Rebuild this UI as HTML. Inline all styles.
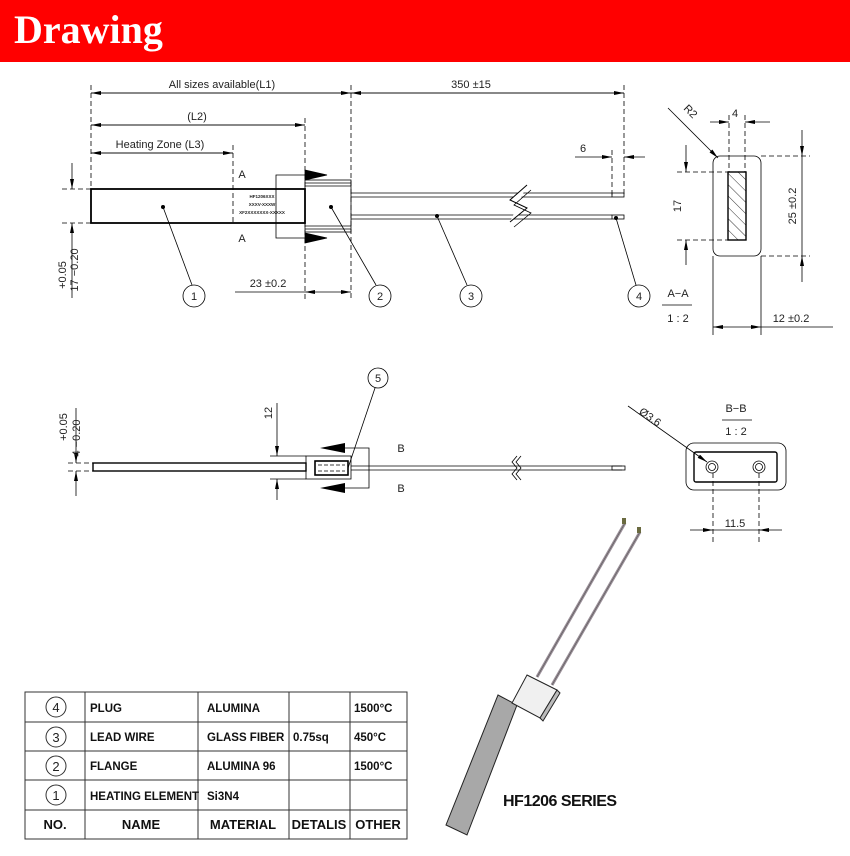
<!DOCTYPE html>
<html><head><meta charset="utf-8"><style>
html,body{margin:0;padding:0;background:#fff;}
svg{display:block;}
text{font-family:"Liberation Sans Narrow","Liberation Sans",sans-serif;fill:#222;}
</style></head><body>
<svg width="850" height="856" viewBox="0 0 850 856" xmlns="http://www.w3.org/2000/svg">
<defs>
<marker id="ar" viewBox="0 0 10 4" refX="10" refY="2" markerWidth="14" markerHeight="4" markerUnits="userSpaceOnUse" orient="auto"><path d="M0,0L10,2L0,4z" fill="#000"/></marker>
<pattern id="hatch" width="8" height="8" patternUnits="userSpaceOnUse" patternTransform="rotate(-45)"><line x1="0" y1="0" x2="0" y2="8" stroke="#333" stroke-width="1"/></pattern>
</defs>
<rect x="0" y="0" width="850" height="62" fill="#ff0000"/>
<text x="14" y="43" style="font-family:'Liberation Serif',serif;font-weight:bold;font-size:40px;fill:#fff">Drawing</text>

<g stroke="#000" stroke-width="0.8" fill="none">
<!-- dashed extension lines top -->
<g stroke-dasharray="5,3">
<line x1="91" y1="85" x2="91" y2="223"/>
<line x1="305" y1="118" x2="305" y2="300"/>
<line x1="351" y1="85" x2="351" y2="300"/>
<line x1="624" y1="85" x2="624" y2="195"/>
<line x1="612" y1="150" x2="612" y2="195"/>
<line x1="233" y1="145" x2="233" y2="223"/>
<line x1="62" y1="189" x2="91" y2="189"/>
<line x1="62" y1="223" x2="91" y2="223"/>
</g>
<!-- dim lines -->
<line x1="91" y1="93" x2="351" y2="93" marker-start="url(#ar)" marker-end="url(#ar)" style="marker-start:none"/>
<line x1="351" y1="93" x2="91" y2="93" marker-end="url(#ar)"/>
<line x1="351" y1="93" x2="624" y2="93" marker-end="url(#ar)"/>
<line x1="624" y1="93" x2="351" y2="93" marker-end="url(#ar)"/>
<line x1="91" y1="125" x2="305" y2="125" marker-end="url(#ar)"/>
<line x1="305" y1="125" x2="91" y2="125" marker-end="url(#ar)"/>
<line x1="91" y1="153" x2="233" y2="153" marker-end="url(#ar)"/>
<line x1="233" y1="153" x2="91" y2="153" marker-end="url(#ar)"/>
<line x1="235" y1="292" x2="305" y2="292"/>
<line x1="330" y1="292" x2="305" y2="292" marker-end="url(#ar)"/>
<line x1="330" y1="292" x2="351" y2="292" marker-end="url(#ar)"/>
<line x1="575" y1="157" x2="612" y2="157" marker-end="url(#ar)"/>
<line x1="645" y1="157" x2="624" y2="157" marker-end="url(#ar)"/>
<line x1="72" y1="163" x2="72" y2="189" marker-end="url(#ar)"/>
<line x1="72" y1="250" x2="72" y2="223" marker-end="url(#ar)"/>
<line x1="72" y1="250" x2="72" y2="298"/>
<!-- element -->
<rect x="91" y="189" width="214" height="34" stroke-width="1.8"/>
<!-- flange -->
<rect x="305" y="180" width="46" height="52"/>
<line x1="305" y1="183" x2="351" y2="183"/><line x1="305" y1="186" x2="351" y2="186"/>
<line x1="305" y1="226" x2="351" y2="226"/><line x1="305" y1="229" x2="351" y2="229"/>
<!-- wires -->
<line x1="351" y1="193" x2="612" y2="193"/><line x1="351" y1="197" x2="612" y2="197"/>
<line x1="351" y1="215" x2="612" y2="215"/><line x1="351" y1="219" x2="612" y2="219"/>
<rect x="612" y="193" width="12" height="4"/>
<rect x="612" y="215" width="12" height="4"/>
<polyline points="527,185 510,200 527,208 510,222" stroke="#000" fill="#fff" stroke-width="1"/>
<polyline points="531,190 514,205 531,213 514,227"/>
<!-- section A lines -->
<polyline points="305,175 276,175 276,238 305,238"/>
<path d="M305,170L327,175L305,180z" fill="#000"/>
<path d="M305,233L327,238L305,243z" fill="#000"/>
<!-- leaders -->
<line x1="163" y1="207" x2="192" y2="285"/>
<line x1="331" y1="207" x2="376" y2="285"/>
<line x1="437" y1="216" x2="467" y2="285"/>
<line x1="616" y1="218" x2="636" y2="285"/>
<circle cx="194" cy="296" r="11"/><circle cx="380" cy="296" r="11"/><circle cx="471" cy="296" r="11"/><circle cx="639" cy="296" r="11"/>
</g>
<g fill="#000"><circle cx="163" cy="207" r="2"/><circle cx="331" cy="207" r="2"/><circle cx="437" cy="216" r="2"/><circle cx="616" cy="218" r="2"/></g>
<g font-size="11" text-anchor="middle">
<text x="222" y="88">All sizes available(L1)</text>
<text x="471" y="88">350 ±15</text>
<text x="197" y="120">(L2)</text>
<text x="160" y="148">Heating Zone (L3)</text>
<text x="268" y="287">23 ±0.2</text>
<text x="583" y="152">6</text>
<text x="242" y="178">A</text>
<text x="242" y="242">A</text>
<text x="194" y="300">1</text><text x="380" y="300">2</text><text x="471" y="300">3</text><text x="639" y="300">4</text>
</g>
<g font-size="4.5" font-weight="bold" text-anchor="middle"><text x="262" y="198">HF1206XXX</text><text x="262" y="206">XXXV-XXXW</text><text x="262" y="214">XF2XXXXXXX-XXXXX</text></g>
<text transform="translate(66,275) rotate(-90)" font-size="11" text-anchor="middle">+0.05</text>
<text transform="translate(78,270) rotate(-90)" font-size="11" text-anchor="middle">17 −0.20</text>

<!-- Section A-A -->
<g stroke="#000" stroke-width="0.8" fill="none">
<rect x="713" y="156" width="48" height="100" rx="7"/>
<rect x="728" y="172" width="18" height="68" fill="url(#hatch)" stroke-width="1.4"/>
<g stroke-dasharray="5,3">
<line x1="729" y1="115" x2="729" y2="172"/><line x1="745" y1="115" x2="745" y2="172"/>
<line x1="677" y1="172" x2="728" y2="172"/><line x1="677" y1="240" x2="728" y2="240"/>
<line x1="761" y1="156" x2="810" y2="156"/><line x1="761" y1="256" x2="810" y2="256"/>
</g>
<line x1="710" y1="122" x2="729" y2="122" marker-end="url(#ar)"/>
<line x1="770" y1="122" x2="745" y2="122" marker-end="url(#ar)"/>
<line x1="668" y1="108" x2="718" y2="158" marker-end="url(#ar)"/>
<line x1="686" y1="145" x2="686" y2="172" marker-end="url(#ar)"/>
<line x1="686" y1="265" x2="686" y2="240" marker-end="url(#ar)"/>
<line x1="802" y1="130" x2="802" y2="156" marker-end="url(#ar)"/>
<line x1="802" y1="282" x2="802" y2="256" marker-end="url(#ar)"/>
<line x1="802" y1="156" x2="802" y2="256"/>
<line x1="713" y1="256" x2="713" y2="335"/><line x1="761" y1="256" x2="761" y2="335"/>
<line x1="737" y1="327" x2="713" y2="327" marker-end="url(#ar)"/>
<line x1="737" y1="327" x2="761" y2="327" marker-end="url(#ar)"/>
<line x1="761" y1="327" x2="833" y2="327"/>
<line x1="662" y1="305" x2="692" y2="305"/>
</g>
<g font-size="11" text-anchor="middle">
<text x="735" y="117">4</text>
<text x="678" y="297">A−A</text>
<text x="678" y="322">1 : 2</text>
<text x="791" y="322">12 ±0.2</text>
</g>
<text transform="translate(688,114) rotate(45)" font-size="11" text-anchor="middle">R2</text>
<text transform="translate(681,206) rotate(-90)" font-size="11" text-anchor="middle">17</text>
<text transform="translate(796,206) rotate(-90)" font-size="11" text-anchor="middle">25 ±0.2</text>

<!-- Side view -->
<g stroke="#000" stroke-width="0.8" fill="none">
<rect x="93" y="463" width="213" height="8" stroke-width="1.4"/>
<rect x="306" y="456" width="45" height="23"/>
<rect x="315" y="461" width="33" height="14" stroke-width="1.6"/>
<g stroke-dasharray="4,2"><line x1="318" y1="465" x2="345" y2="465"/><line x1="318" y1="471" x2="345" y2="471"/></g>
<polyline points="345,448 369,448 369,488 345,488"/>
<line x1="351" y1="466" x2="622" y2="466"/><line x1="351" y1="470" x2="622" y2="470"/>
<rect x="612" y="466" width="13" height="4"/>
<polyline points="517,456 512,462 517,468 512,474 517,480" stroke="#000"/>
<polyline points="521,456 516,462 521,468 516,474 521,480"/>
<g stroke-dasharray="5,3"><line x1="68" y1="463" x2="93" y2="463"/><line x1="68" y1="471" x2="93" y2="471"/></g>
<line x1="270" y1="456" x2="306" y2="456"/><line x1="270" y1="479" x2="306" y2="479"/>
<line x1="277" y1="403" x2="277" y2="456" marker-end="url(#ar)"/>
<line x1="277" y1="500" x2="277" y2="479" marker-end="url(#ar)"/>
<line x1="76" y1="408" x2="76" y2="463" marker-end="url(#ar)"/>
<line x1="76" y1="496" x2="76" y2="471" marker-end="url(#ar)"/>
<line x1="375" y1="388" x2="348" y2="468"/>
<circle cx="378" cy="378" r="10"/>
</g>
<path d="M345,443L320,448L345,453z" fill="#000"/>
<path d="M345,483L320,488L345,493z" fill="#000"/>
<g font-size="11" text-anchor="middle">
<text x="378" y="382">5</text>
<text x="401" y="452">B</text>
<text x="401" y="492">B</text>
</g>
<text transform="translate(272,413) rotate(-90)" font-size="11" text-anchor="middle">12</text>
<text transform="translate(67,427) rotate(-90)" font-size="11" text-anchor="middle">+0.05</text>
<text transform="translate(80,438) rotate(-90)" font-size="11" text-anchor="middle">4 −0.20</text>

<!-- Section B-B -->
<g stroke="#000" stroke-width="0.8" fill="none">
<rect x="686" y="443" width="100" height="47" rx="8"/>
<rect x="694" y="452" width="83" height="30" rx="2" stroke-width="1.4"/>
<circle cx="712" cy="467" r="6"/><circle cx="712" cy="467" r="3.5"/>
<circle cx="759" cy="467" r="6"/><circle cx="759" cy="467" r="3.5"/>
<g stroke-dasharray="5,3"><line x1="713" y1="473" x2="713" y2="542"/><line x1="759" y1="473" x2="759" y2="542"/></g>
<line x1="690" y1="530" x2="713" y2="530" marker-end="url(#ar)"/>
<line x1="782" y1="530" x2="759" y2="530" marker-end="url(#ar)"/>
<line x1="713" y1="530" x2="759" y2="530"/>
<line x1="628" y1="406" x2="707" y2="462" marker-end="url(#ar)"/>
<line x1="722" y1="420" x2="752" y2="420"/>
</g>
<g font-size="11" text-anchor="middle">
<text x="736" y="412">B−B</text>
<text x="736" y="435">1 : 2</text>
<text x="735" y="527">11.5</text>
</g>
<text transform="translate(648,420) rotate(35)" font-size="11" text-anchor="middle">Ø3.6</text>

<!-- Render -->
<g stroke="#222" stroke-width="1">
<line x1="537" y1="677" x2="625" y2="523" stroke="#9a8f98" stroke-width="3"/>
<line x1="552" y1="685" x2="640" y2="532" stroke="#9a8f98" stroke-width="3"/>
<line x1="537" y1="677" x2="625" y2="523" stroke="#555" stroke-width="0.6"/>
<line x1="552" y1="685" x2="640" y2="532" stroke="#555" stroke-width="0.6"/>
<polygon points="446,825 467,835 517,705 498,695" fill="#a8a8a8"/>
<polygon points="527,675 557,690 540,718 512,703" fill="#f0f0f0"/>
<polygon points="557,690 560,693 543,721 540,718" fill="#bbb"/>
</g>
<rect x="622" y="518" width="4" height="6" fill="#6a6a40"/>
<rect x="637" y="527" width="4" height="6" fill="#6a6a40"/>
<text x="503" y="806" style="font-family:'Liberation Sans',sans-serif;font-size:16px;font-weight:bold;fill:#111;letter-spacing:-0.5px">HF1206 SERIES</text>

<!-- Table -->
<g stroke="#333" stroke-width="1" fill="none">
<rect x="25" y="692" width="382" height="147"/>
<line x1="85" y1="692" x2="85" y2="839"/><line x1="198" y1="692" x2="198" y2="839"/>
<line x1="289" y1="692" x2="289" y2="839"/><line x1="350" y1="692" x2="350" y2="839"/>
<line x1="25" y1="722" x2="407" y2="722"/><line x1="25" y1="751" x2="407" y2="751"/>
<line x1="25" y1="780" x2="407" y2="780"/><line x1="25" y1="810" x2="407" y2="810"/>
<circle cx="56" cy="707" r="10"/><circle cx="56" cy="737" r="10"/><circle cx="56" cy="766" r="10"/><circle cx="56" cy="795" r="10"/>
</g>
<g style="font-family:'Liberation Serif',serif;font-size:13px" text-anchor="middle">
<text x="56" y="712">4</text><text x="56" y="742">3</text><text x="56" y="771">2</text><text x="56" y="800">1</text>
</g>
<g style="font-family:'Liberation Sans',sans-serif;font-size:11.5px;font-weight:bold">
<text x="90" y="712" style="fill:#111">PLUG</text>
<text x="90" y="741" style="fill:#111">LEAD WIRE</text>
<text x="90" y="770" style="fill:#111">FLANGE</text>
<text x="90" y="800" style="fill:#111">HEATING ELEMENT</text>
<text x="207" y="712" style="fill:#111">ALUMINA</text>
<text x="207" y="741" style="fill:#111">GLASS FIBER</text>
<text x="207" y="770" style="fill:#111">ALUMINA 96</text>
<text x="207" y="800" style="fill:#111">Si3N4</text>
<text x="293" y="741" style="fill:#111">0.75sq</text>
<text x="354" y="712" style="fill:#111">1500°C</text>
<text x="354" y="741" style="fill:#111">450°C</text>
<text x="354" y="770" style="fill:#111">1500°C</text>
</g>
<g style="font-family:'Liberation Sans',sans-serif;font-size:13px;font-weight:bold" text-anchor="middle">
<text x="55" y="829" style="fill:#111">NO.</text>
<text x="141" y="829" style="fill:#111">NAME</text>
<text x="243" y="829" style="fill:#111">MATERIAL</text>
<text x="319" y="829" style="fill:#111">DETALIS</text>
<text x="378" y="829" style="fill:#111">OTHER</text>
</g>
</svg>
</body></html>
